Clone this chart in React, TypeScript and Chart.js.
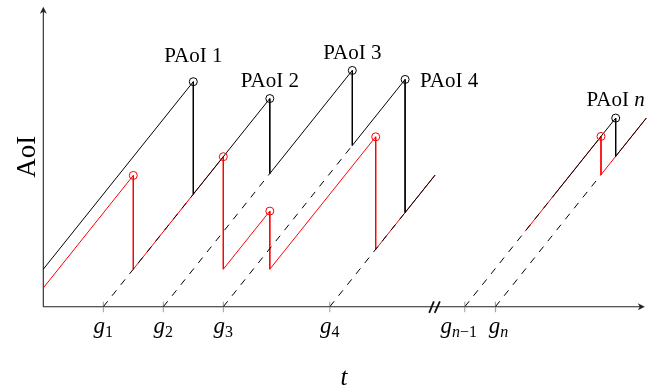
import React, { useEffect, useRef } from "react";
import { Chart, registerables } from "chart.js";

Chart.register(...registerables);

// ---- data (time t, age of information) ----
const genTimes = [2, 4, 6, 9.55, 14.05, 15.07]; // g1 .. gn
const genLabels = ["1", "2", "3", "4", "n−1", "n"];
const genLabelNudge = [0, 0, 0, 0, -6, 3];

// dashed ramps start at (g, 0) and end here
const dashEndT = [5, 7.55, 10.3, 12.06, 17.06, 18.59];
const dashEndAoI = [3, 3.55, 4.3, 2.51, 3.01, 3.52];

// black sawtooth (left part / right part)
const blackLeftT = [0, 5, 5, 7.55, 7.55, 10.3, 10.3, 12.06, 12.06, 13.06];
const blackLeftAoI = [1, 6, 3, 5.55, 3.55, 6.3, 4.3, 6.06, 2.51, 3.51];
const blackRightT = [17.06, 19.08, 19.08, 20.1];
const blackRightAoI = [3.01, 5.03, 4.01, 5.03];

// red sawtooth (left part / right part)
const redLeftT = [0, 3, 3, 6, 6, 7.55, 7.55, 11.08, 11.08, 13.06];
const redLeftAoI = [0.5, 3.5, 1, 4, 1, 2.55, 1, 4.53, 1.53, 3.51];
const redRightT = [16.06, 18.59, 18.59, 20.1];
const redRightAoI = [2.01, 4.54, 3.52, 5.03];

// peaks (circles)
const peakT = [5, 7.55, 10.3, 12.06, 19.08];
const peakAoI = [6, 5.55, 6.3, 6.06, 5.03];
const peakLabels = ["1", "2", "3", "4", "n"];
const redPeakT = [3, 6, 7.55, 11.08, 18.59];
const redPeakAoI = [3.5, 4, 2.55, 4.53, 4.54];

// axis extents and break
const xAxisEnd = 20.05;
const yAxisEnd = 8.0;
const axisBreakT = 13.04;

// ---- styling ----
const SERIF = '"Liberation Serif", "Times New Roman", serif';
const labelPlace = [
  { dx: 0, dy: -20, align: "center" },
  { dx: 0, dy: -11.5, align: "center" },
  { dx: 0, dy: -11, align: "center" },
  { dx: 15, dy: 7.3, align: "left" },
  { dx: 0, dy: -11.7, align: "center" },
];

type Run = { text: string; font: string; dy: number };

function drawRuns(ctx: CanvasRenderingContext2D, runs: Run[], x: number, y: number, align: string) {
  let total = 0;
  const widths = runs.map((r) => {
    ctx.font = r.font;
    const w = ctx.measureText(r.text).width;
    total += w;
    return w;
  });
  let cx = align === "center" ? x - total / 2 : align === "right" ? x - total : x;
  ctx.textAlign = "left";
  ctx.textBaseline = "alphabetic";
  runs.forEach((r, i) => {
    ctx.font = r.font;
    ctx.fillText(r.text, cx, y + r.dy);
    cx += widths[i];
  });
}

function subRuns(sub: string, size: number, dy: number): Run[] {
  const runs: Run[] = [];
  for (const ch of sub) {
    const isLetter = /[a-z]/i.test(ch);
    runs.push({ text: ch, font: `${isLetter ? "italic " : ""}${size}px ${SERIF}`, dy });
  }
  return runs;
}

const decorPlugin = {
  id: "decor",
  beforeDatasetsDraw(chart: any) {
    const { ctx } = chart;
    const xs = chart.scales.x;
    const ys = chart.scales.y;
    const x0 = xs.getPixelForValue(0);
    const y0 = ys.getPixelForValue(0);
    const yTop = ys.getPixelForValue(yAxisEnd);
    const xEnd = xs.getPixelForValue(xAxisEnd);
    ctx.save();
    ctx.strokeStyle = "#222";
    ctx.fillStyle = "#222";
    ctx.lineWidth = 1.1;
    ctx.beginPath();
    ctx.moveTo(x0, y0);
    ctx.lineTo(x0, yTop + 3);
    ctx.moveTo(x0, y0);
    ctx.lineTo(xEnd - 3, y0);
    ctx.stroke();
    // arrow heads
    ctx.beginPath();
    ctx.moveTo(x0, yTop);
    ctx.lineTo(x0 - 3.5, yTop + 7);
    ctx.lineTo(x0, yTop + 5);
    ctx.lineTo(x0 + 3.5, yTop + 7);
    ctx.closePath();
    ctx.fill();
    ctx.beginPath();
    ctx.moveTo(xEnd, y0);
    ctx.lineTo(xEnd - 7, y0 - 3.5);
    ctx.lineTo(xEnd - 5, y0);
    ctx.lineTo(xEnd - 7, y0 + 3.5);
    ctx.closePath();
    ctx.fill();
    // ticks
    ctx.strokeStyle = "#9a9a9a";
    ctx.lineWidth = 1;
    genTimes.forEach((g) => {
      const px = xs.getPixelForValue(g);
      ctx.beginPath();
      ctx.moveTo(px, y0 - 5);
      ctx.lineTo(px, y0 + 5.5);
      ctx.stroke();
    });
    // axis break marker
    const bx = xs.getPixelForValue(axisBreakT);
    ctx.strokeStyle = "#111";
    ctx.lineWidth = 1.8;
    ctx.beginPath();
    ctx.moveTo(bx - 5.3, y0 + 6.2);
    ctx.lineTo(bx - 0.6, y0 - 5.4);
    ctx.moveTo(bx + 0.2, y0 + 6.2);
    ctx.lineTo(bx + 5.4, y0 - 5.4);
    ctx.stroke();
    ctx.restore();
  },
  afterDatasetsDraw(chart: any) {
    const { ctx } = chart;
    const xs = chart.scales.x;
    const ys = chart.scales.y;
    const x0 = xs.getPixelForValue(0);
    const y0 = ys.getPixelForValue(0);
    const yTop = ys.getPixelForValue(yAxisEnd);
    const xEnd = xs.getPixelForValue(xAxisEnd);
    ctx.save();
    ctx.fillStyle = "#000";
    // tick labels g_i
    genTimes.forEach((g, i) => {
      const px = xs.getPixelForValue(g) + genLabelNudge[i];
      const runs: Run[] = [{ text: "g", font: `italic 23px ${SERIF}`, dy: 0 }, ...subRuns(genLabels[i], 16, 3.4)];
      drawRuns(ctx, runs, px, y0 + 26.7, "center");
    });
    // PAoI labels
    peakT.forEach((t, i) => {
      const px = xs.getPixelForValue(t);
      const py = ys.getPixelForValue(peakAoI[i]);
      const pl = labelPlace[i];
      const lab = peakLabels[i];
      const isLetter = /[a-z]/i.test(lab);
      const runs: Run[] = [
        { text: "PAoI ", font: `21px ${SERIF}`, dy: 0 },
        { text: lab, font: `${isLetter ? "italic " : ""}21px ${SERIF}`, dy: 0 },
      ];
      drawRuns(ctx, runs, px + pl.dx, py + pl.dy, pl.align);
    });
    // axis titles
    drawRuns(ctx, [{ text: "t", font: `italic 25px ${SERIF}`, dy: 0 }], (x0 + xEnd) / 2, y0 + 78, "center");
    ctx.save();
    ctx.translate(x0 - 8.3, (y0 + yTop) / 2);
    ctx.rotate(-Math.PI / 2);
    ctx.font = `27px ${SERIF}`;
    ctx.textAlign = "center";
    ctx.textBaseline = "alphabetic";
    ctx.fillText("AoI", 0, 0);
    ctx.restore();
    ctx.restore();
  },
};

const pts = (t: number[], a: number[]) => t.map((v, i) => ({ x: v, y: a[i] }));

function lineDs(data: { x: number; y: number }[], color: string, dash: number[] = []) {
  return {
    data,
    showLine: true,
    borderColor: color,
    backgroundColor: color,
    borderWidth: 1,
    borderDash: dash,
    pointRadius: 0,
    pointHoverRadius: 0,
    tension: 0,
    fill: false,
  };
}

export default function App() {
  const ref = useRef<HTMLCanvasElement | null>(null);
  useEffect(() => {
    if (!ref.current) return;
    const circleDs = (t: number[], a: number[], color: string) => ({
      data: pts(t, a),
      showLine: false,
      pointRadius: 4,
      pointHoverRadius: 4,
      pointBorderWidth: 1,
      borderWidth: 1,
      pointBorderColor: color,
      borderColor: color,
      backgroundColor: "rgba(0,0,0,0)",
      pointBackgroundColor: "rgba(0,0,0,0)",
    });
    const dashed = genTimes.map((g, i) =>
      lineDs([{ x: g, y: 0 }, { x: dashEndT[i], y: dashEndAoI[i] }], "#000", [7, 7])
    );
    // first dataset is drawn on top
    const datasets: any[] = [
      circleDs(peakT, peakAoI, "#000"),
      circleDs(redPeakT, redPeakAoI, "#ff0000"),
      lineDs(pts(blackLeftT, blackLeftAoI), "#000"),
      lineDs(pts(blackRightT, blackRightAoI), "#000"),
      ...dashed,
      lineDs(pts(redLeftT, redLeftAoI), "#ff0000"),
      lineDs(pts(redRightT, redRightAoI), "#ff0000"),
    ];
    const chart = new Chart(ref.current, {
      type: "scatter",
      data: { datasets },
      options: {
        animation: false,
        responsive: false,
        devicePixelRatio: 1,
        layout: { padding: 0, autoPadding: false },
        plugins: { legend: { display: false }, tooltip: { enabled: false }, title: { display: false } },
        events: [],
        scales: {
          x: { type: "linear", min: -43.3 / 30, max: (654 - 43.3) / 30, display: false },
          y: { type: "linear", min: (306.7 - 391) / 37.5, max: 306.7 / 37.5, display: false },
        },
      },
      plugins: [decorPlugin],
    } as any);
    return () => chart.destroy();
  }, []);
  return (
    <div style={{ position: "absolute", left: 0, top: 0, width: 654, height: 391, background: "#fff" }}>
      <canvas ref={ref} width={654} height={391} style={{ display: "block" }} />
    </div>
  );
}
